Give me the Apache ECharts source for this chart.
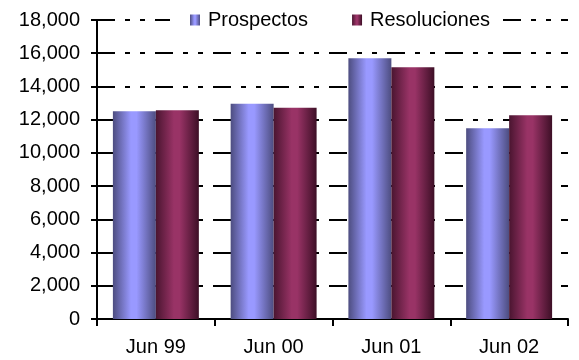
<!DOCTYPE html>
<html>
<head>
<meta charset="utf-8">
<script src="https://cdn.jsdelivr.net/npm/echarts@6/dist/echarts.min.js"></script>
<style>
html,body{margin:0;padding:0;background:#fff;}
#chart{width:579px;height:360px;}
</style>
</head>
<body>
<div id="chart"></div>
<script>
var categories = ['Jun 99', 'Jun 00', 'Jun 01', 'Jun 02'];
var prospectos = [12500, 12960, 15700, 11480];
var resoluciones = [12560, 12720, 15160, 12260];
var seriesNames = ['Prospectos', 'Resoluciones'];

function grad(dark1, light, dark2) {
  return new echarts.graphic.LinearGradient(0, 0, 1, 0, [
    {offset: 0, color: dark1},
    {offset: 0.42, color: light},
    {offset: 0.55, color: light},
    {offset: 1, color: dark2}
  ]);
}
var font = 'Liberation Sans, Arial, sans-serif';
var chart = echarts.init(document.getElementById('chart'), null, {renderer: 'canvas'});
chart.setOption({
  animation: false,
  backgroundColor: '#ffffff',
  grid: {left: 97, right: 11, top: 20, bottom: 41, containLabel: false},
  legend: {
    top: 9,
    left: 170,
    padding: [1, 10, 1, 20],
    backgroundColor: '#ffffff',
    itemWidth: 10,
    itemHeight: 11,
    itemGap: 44,
    icon: 'rect',
    textStyle: {fontFamily: font, fontSize: 20, color: '#000', padding: [0, 0, 0, 3]},
    data: seriesNames
  },
  xAxis: {
    type: 'category',
    data: categories,
    boundaryGap: true,
    axisLine: {lineStyle: {color: '#000', width: 2}},
    axisTick: {show: true, length: 7, lineStyle: {color: '#000', width: 2}},
    axisLabel: {fontFamily: font, fontSize: 20, color: '#000', margin: 18}
  },
  yAxis: {
    type: 'value',
    min: 0,
    max: 18000,
    interval: 2000,
    axisLine: {show: true, lineStyle: {color: '#000', width: 2}},
    axisTick: {show: true, length: 6, lineStyle: {color: '#000', width: 2}},
    axisLabel: {
      fontFamily: font, fontSize: 20, color: '#000', margin: 17,
      formatter: function (v) { return v.toLocaleString('en-US'); }
    },
    splitLine: {show: true, lineStyle: {color: '#000', width: 2, type: [18, 10, 5, 10, 5, 10]}}
  },
  series: [
    {
      name: seriesNames[0], type: 'bar', data: prospectos,
      barGap: '0%', barCategoryGap: '27%',
      itemStyle: {color: grad('#4d4d80', '#9999ff', '#4d4d80')}
    },
    {
      name: seriesNames[1], type: 'bar', data: resoluciones,
      barGap: '0%', barCategoryGap: '27%',
      itemStyle: {color: grad('#4a1530', '#993366', '#3d0f26')}
    }
  ]
});
</script>
</body>
</html>
